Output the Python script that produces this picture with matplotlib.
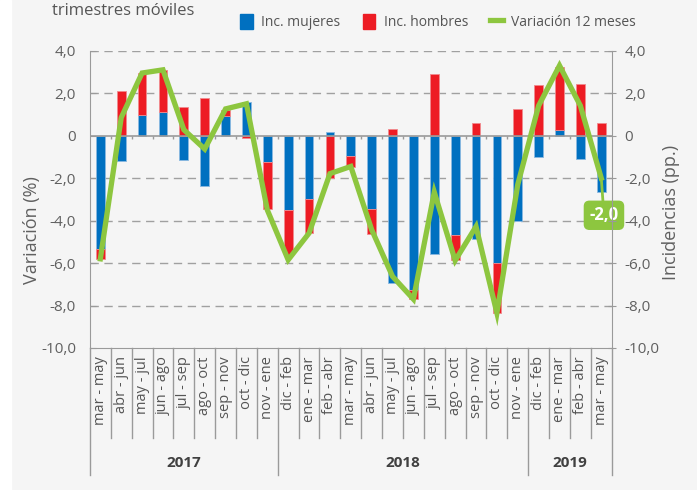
import numpy as np
import matplotlib
matplotlib.use('Agg')
import matplotlib.pyplot as plt
import matplotlib.transforms as mtransforms
from matplotlib.patches import Patch, Rectangle
from matplotlib.lines import Line2D

plt.rcParams['font.family'] = ['Open Sans', 'DejaVu Sans']

# trimestres moviles (mar-may 2017 .. mar-may 2019)
periods = ['mar - may', 'abr - jun', 'may - jul', 'jun - ago', 'jul - sep', 'ago - oct',
           'sep - nov', 'oct - dic', 'nov - ene',
           'dic - feb', 'ene - mar', 'feb - abr', 'mar - may', 'abr - jun', 'may - jul',
           'jun - ago', 'jul - sep', 'ago - oct', 'sep - nov', 'oct - dic', 'nov - ene',
           'dic - feb', 'ene - mar', 'feb - abr', 'mar - may']
years = ['2017', '2018', '2019']
year_sizes = [9, 12, 4]

# incidencias (pp.)
inc_mujeres = [-5.35, -1.18, 0.96, 1.12, -1.13, -2.39, 0.91, 1.59, -1.24,
               -3.49, -2.97, 0.17, -0.97, -3.44, -6.95, -7.26, -5.58, -4.70, -4.87, -6.00, -4.04,
               -1.02, 0.28, -1.08, -2.66]
inc_hombres = [-0.44, 2.10, 2.00, 1.98, 1.37, 1.75, 0.31, -0.13, -2.20,
               -2.12, -1.62, -2.00, -0.52, -1.18, 0.33, -0.44, 2.91, -1.15, 0.58, -2.36, 1.27,
               2.37, 2.96, 2.44, 0.58]
# variacion 12 meses (%)
variacion = [-5.8, 0.85, 2.95, 3.1, 0.28, -0.63, 1.26, 1.5, -3.5,
             -5.85, -4.59, -1.79, -1.45, -4.43, -6.63, -7.7, -2.66, -5.88, -4.28, -8.35, -2.3,
             1.41, 3.3, 1.41, -2.0]

BLUE = '#0070C0'
RED = '#ED1C24'
GREEN = '#8DC63F'
GRID = '#a0a0a0'
AXC = '#9a9a9a'
TXT = '#606060'
BG = '#f5f5f5'

fig = plt.figure(figsize=(6.97, 4.9), dpi=100, facecolor=BG)
fig.patches.append(Rectangle((0, 0), 11 / 697, 1, transform=fig.transFigure,
                             color='white', zorder=-1))
ax = fig.add_axes([0.129, 0.2898, 0.7486, 0.6067])
ax.set_facecolor(BG)

x = np.arange(len(periods))
blue = np.array(inc_mujeres)
red = np.array(inc_hombres)
red_bottom = np.where(np.sign(red) == np.sign(blue), blue, 0)

ax.bar(x, blue, 0.42, color=BLUE, edgecolor='#8ab8e0', linewidth=0.6, zorder=3)
ax.bar(x, red, 0.42, bottom=red_bottom, color=RED, edgecolor='#f08a8e', linewidth=0.6, zorder=3)
ax.plot(x, variacion, color=GREEN, lw=3.8, solid_joinstyle='miter', zorder=5)

ax.set_xlim(-0.5, len(periods) - 0.5)
ax.set_ylim(-10, 4)

yticks = np.arange(-10, 5, 2)
ylabels = ['0' if v == 0 else f'{v:.1f}'.replace('.', ',') for v in yticks]

for v in yticks:
    if v not in (0, -10):
        ax.axhline(v, color=GRID, lw=1, ls=(0, (6, 4)), zorder=1)
ax.axhline(0, color=AXC, lw=1.2, zorder=4)
ax.vlines(x[:-1] + 0.5, -0.15, 0, color=AXC, lw=1, zorder=4)

ax.set_yticks(yticks, ylabels)
ax.tick_params(axis='y', direction='in', length=4, color=AXC, labelcolor=TXT,
               labelsize=11, pad=10)
ax.set_xticks(x, periods, rotation=90)
ax.tick_params(axis='x', length=0, pad=6, labelsize=10.5, labelcolor='#555555')

for s in ['top', 'right']:
    ax.spines[s].set_visible(False)
for s in ['left', 'bottom']:
    ax.spines[s].set_color(AXC)

ax2 = ax.twinx()
ax2.set_ylim(-10, 4)
ax2.set_yticks(yticks, ylabels)
ax2.tick_params(axis='y', direction='inout', length=6, color=AXC, labelcolor=TXT,
                labelsize=11, pad=6)
for s in ['top', 'left', 'bottom']:
    ax2.spines[s].set_visible(False)
ax2.spines['right'].set_color(AXC)

# category / year separators below the axis
trans = mtransforms.blended_transform_factory(ax.transData, ax.transAxes)
year_bounds = np.concatenate([[0], np.cumsum(year_sizes)]) - 0.5
for b in np.arange(-0.5, len(periods), 1):
    y_end = -0.428 if b in year_bounds else -0.303
    ax.plot([b, b], [0, y_end], transform=trans, clip_on=False, color=AXC, lw=1)
for i, yr in enumerate(years):
    cx = (year_bounds[i] + year_bounds[i + 1]) / 2
    ax.text(cx, -0.387, yr, transform=trans, ha='center', va='center',
            fontsize=11, fontweight='bold', color='#404040')

fig.text(32 / 697, 1 - 230 / 490, 'Variación (%)', rotation=90, ha='center', va='center',
         fontsize=13, color=TXT)
fig.text(671 / 697, 1 - 212 / 490, 'Incidencias (pp.)', rotation=90, ha='center', va='center',
         fontsize=13, color=TXT)
fig.text(52 / 697, 1 - 11 / 490, 'trimestres móviles', ha='left', va='center',
         fontsize=12, color='#555555')

handles = [Patch(color=BLUE), Patch(color=RED), Line2D([], [], color=GREEN, lw=3.8)]
fig.legend(handles, ['Inc. mujeres', 'Inc. hombres', 'Variación 12 meses'],
           loc='center left', bbox_to_anchor=(228 / 697, 1 - 22 / 490), ncol=3,
           frameon=False, fontsize=10, handlelength=0.9, handleheight=1.3,
           handletextpad=0.6, columnspacing=1.6, labelcolor='#555555')

ax.annotate('-2,0', xy=(x[-1], variacion[-1]), xytext=(24.13, -3.75),
            ha='center', va='center', color='white', fontsize=12, fontweight='bold',
            bbox=dict(boxstyle='round,pad=0.3', fc=GREEN, ec=GREEN),
            arrowprops=dict(arrowstyle='-', color=GREEN, lw=2, shrinkA=0, shrinkB=0),
            zorder=6, annotation_clip=False)

fig.savefig('out.png', dpi=100, facecolor=BG)
